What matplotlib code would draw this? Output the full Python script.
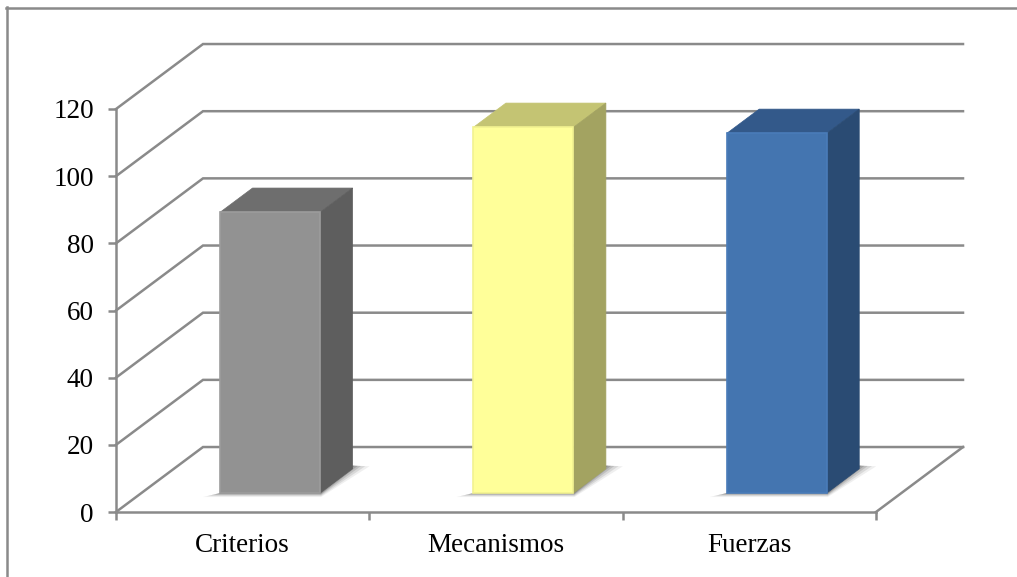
import matplotlib
matplotlib.use('Agg')
import matplotlib.pyplot as plt
from matplotlib.lines import Line2D
from matplotlib.patches import Polygon
import numpy as np

categories = ['Criterios', 'Mecanismos', 'Fuerzas']
values = [83.6, 108.9, 107.1]
y_ticks = [0, 20, 40, 60, 80, 100, 120]

front_colors = ['#929292', '#ffff99', '#4475b0']
top_colors = ['#6e6e6e', '#c4c473', '#33598a']
side_colors = ['#5e5e5e', '#a3a361', '#2a4b73']
edge_colors = ['#9c9c9c', '#f2f290', '#4a7cb9']

W, H = 1017, 577
GREY = '#8a8a8a'
LW = 1.8

# depth of the floor, in axis units (x: categories, y: values)
DX = 87 / 253.3
DY = 65 / 3.36
BAR_W = 100 / 253.3
D0, D1 = 0.292, 0.665


def proj(x, y, d):
    return (x + d * DX, y + d * DY)


plt.rcParams['font.family'] = ['Liberation Serif', 'DejaVu Serif']
fig = plt.figure(figsize=(W / 100, H / 100), dpi=100)
ax = fig.add_axes([116 / W, (H - 512) / H, 760 / W, 403 / H])
ax.set_xlim(0, 3)
ax.set_ylim(0, 120)
ax.patch.set_visible(False)

# marco exterior
fig.add_artist(Line2D([6 / W, 1], [1 - 7.5 / H] * 2, color=GREY, lw=LW))
fig.add_artist(Line2D([7 / W] * 2, [0, 1 - 7 / H], color=GREY, lw=LW))

# lineas de la grilla: piso, pared izquierda y pared del fondo
for t in y_ticks:
    a = proj(0, t, 1)
    b = proj(3, t, 1)
    ax.plot([0, a[0], b[0]], [t, a[1], b[1]], color=GREY, lw=LW, zorder=1,
            clip_on=False, solid_joinstyle='miter')
ax.plot([3, proj(3, 0, 1)[0]], [0, proj(3, 0, 1)[1]], color=GREY, lw=LW, zorder=1,
        clip_on=False)

centers = np.arange(len(categories)) + 0.5
for i, (c, v) in enumerate(zip(centers, values)):
    x0 = c + D0 * DX - BAR_W / 2 + 0.008
    x1 = x0 + BAR_W
    xb0 = x0 + (D1 - D0) * DX
    xb1 = x1 + (D1 - D0) * DX
    base = D0 * DY
    back = D1 * DY

    # sombra en el piso
    for grow, alpha in zip([1.0, 0.75, 0.5, 0.3, 0.12], [0.10, 0.16, 0.22, 0.30, 0.40]):
        sx = 17 * grow / 253.3
        sy = 5 * grow / 3.36
        shadow = [(x0 - sx, base - sy * 0.8), (x1 + 0.004, base - sy * 0.8),
                  (xb1 + sx, back + 0.9 - sy * 0.1), (xb1 - 0.01, back + 1.0),
                  (x1, base + 2), (x0, base)]
        ax.add_patch(Polygon(shadow, closed=True, facecolor='#666666', alpha=alpha,
                             edgecolor='none', zorder=2, clip_on=False))

    # caras superior y lateral
    ax.add_patch(Polygon([(x0, base + v), (x1, base + v), (xb1, back + v), (xb0, back + v)],
                         closed=True, facecolor=top_colors[i], edgecolor=top_colors[i],
                         lw=0.5, zorder=3, clip_on=False))
    ax.add_patch(Polygon([(x1, base), (x1, base + v), (xb1, back + v), (xb1, back)],
                         closed=True, facecolor=side_colors[i], edgecolor=side_colors[i],
                         lw=0.5, zorder=3, clip_on=False))
    # cara frontal
    ax.bar(x0 + BAR_W / 2, v, width=BAR_W, bottom=base, color=front_colors[i],
           edgecolor=edge_colors[i], linewidth=1.2, zorder=4, clip_on=False)

for side in ['top', 'right']:
    ax.spines[side].set_visible(False)
for side in ['left', 'bottom']:
    ax.spines[side].set_color(GREY)
    ax.spines[side].set_linewidth(LW)

ax.set_yticks(y_ticks)
ax.tick_params(axis='y', length=6, width=LW, color=GREY, labelsize=19.5, pad=10)
ax.set_xticks(centers)
ax.set_xticklabels(categories)
ax.set_xticks(np.arange(len(categories) + 1), minor=True)
ax.tick_params(axis='x', which='major', length=0, labelsize=19.5, pad=15)
ax.tick_params(axis='x', which='minor', length=6, width=LW, color=GREY)

plt.savefig('out.png', dpi=100)
